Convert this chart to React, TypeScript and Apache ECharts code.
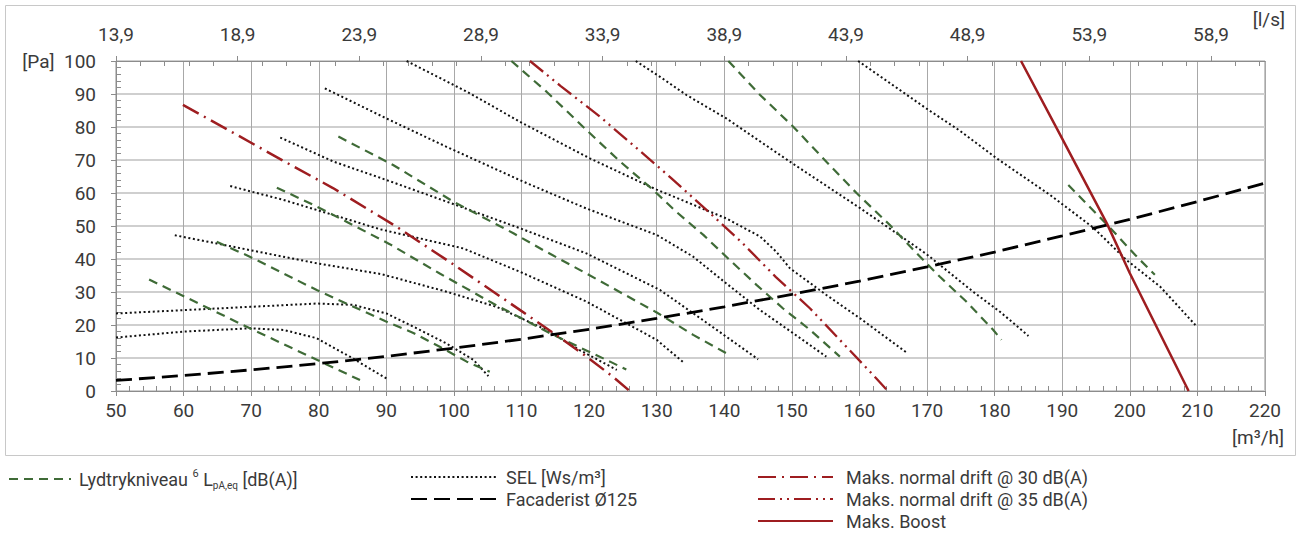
import React, { useEffect, useRef } from "react";
import * as echarts from "echarts";

// ---------- data (x = m³/h, y = Pa) ----------
const xTicksTopLabels = ["13,9", "18,9", "23,9", "28,9", "33,9", "38,9", "43,9", "48,9", "53,9", "58,9"];

const sel600 = [[50, 16.2], [60, 18], [69.8, 19], [74.8, 18.5], [79.7, 16], [84.6, 10.4], [90, 3.8]];
const sel700 = [[50, 23.5], [60, 24.5], [69.8, 25.5], [79.7, 26.5], [85.1, 26.1], [90, 23.5], [94, 19.5], [98.9, 14.4], [102.9, 9.4], [105.1, 4.5]];
const sel800 = [[58.7, 47.2], [64.9, 44.7], [69.8, 42.7], [79.7, 38.7], [89.3, 35.4], [98.9, 30.1], [106.3, 25.5], [113.7, 18.5], [118.6, 12.4], [124.1, 6.4]];
const sel900 = [[66.9, 62.1], [74.8, 57.9], [82.2, 53.3], [89.1, 49], [101.4, 43.2], [109.8, 36.1], [119.6, 27.1], [130, 15.5], [134, 8.6]];
const sel1000 = [[74.3, 76.8], [82.2, 69.5], [89.1, 64.6], [98.9, 57.4], [109.8, 49.3], [119.6, 41.7], [130.5, 30.6], [138, 19.8], [145, 9.6]];
const sel1100 = [[80.9, 91.7], [90, 82.6], [98.9, 74], [110.3, 63.4], [119.6, 55.3], [130, 47.3], [135.4, 40.7], [140.3, 32.6], [145.3, 24.5], [150.2, 17.5], [155.1, 10.4]];
const sel1200 = [[93, 100], [101.9, 90.7], [110.2, 81.1], [120.1, 70.5], [130, 61], [140.3, 52.3], [145.3, 46.8], [147.7, 42.2], [149.7, 37.2], [155.1, 29.1], [160.1, 22], [167, 11.6]];
const sel1400 = [[126.9, 100], [130.5, 95.2], [134.4, 89.7], [140.3, 82.6], [149.7, 69.5], [160.1, 55.4], [165, 48.5], [169.9, 41.5], [171.9, 38.2], [176.8, 30.1], [180.8, 24], [185, 16.7]];
const sel1600 = [[159.8, 100], [169.9, 85.6], [174.9, 78.8], [180.3, 70.5], [188.2, 59.4], [194.6, 49.5], [199.5, 39.7], [204.5, 31.6], [209.7, 20]];

const db26 = [[54.9, 33.8], [69.8, 19], [86.1, 3.3]];
const db28 = [[64.9, 45.2], [69.8, 40.7], [79.7, 30.6], [89.8, 21.2], [94, 17.6], [97.9, 13.4], [101.9, 8.9], [105.3, 5.8]];
const db30 = [[73.8, 61.6], [79.2, 56.4], [84.1, 51.3], [90.5, 44.5], [97.9, 35.6], [105.8, 26.5], [114.7, 17], [123.1, 8.9], [125.5, 6.5]];
const db32 = [[82.9, 77.1], [91, 68.5], [99.9, 57.4], [108.8, 47.8], [113.2, 42.7], [119.6, 35.6], [130, 23.8], [135.4, 17], [140.8, 10.9]];
const db35 = [[108.5, 100], [113.7, 90.7], [119.6, 79.1], [124.6, 69.5], [129.5, 60.9], [132.9, 54.3], [136.9, 47.3], [140.8, 39.7], [144.8, 32.1], [148.7, 25], [152.7, 18.5], [157.1, 10.4]];
const db38 = [[140.6, 100], [145.3, 89.7], [150.2, 80.1], [155.1, 69.5], [159.6, 59.9], [164.5, 50.3], [168, 42.7], [171.9, 34.6], [175.8, 27.1], [179.8, 18.5], [181, 15.5]];
const db42 = [[190.9, 62.4], [196.6, 50.5], [200.8, 41.2], [203.7, 35.2]];

const drift30 = [[59.9, 86.7], [67.3, 78.3], [74.8, 69.7], [82.1, 61.5], [91.5, 49.8], [100.4, 37.7], [109.8, 24.5], [114.7, 17.6], [119.5, 10.6], [123.6, 4.2], [126, 0]];
const drift35 = [[111.25, 100], [115.8, 92.4], [121.5, 83.3], [126.8, 74], [132.1, 64.6], [137.4, 54.8], [142.6, 45], [147.6, 34.6], [152.7, 25], [157.6, 14.4], [162.5, 3.8], [164.2, 0]];
const boost = [[183.9, 100], [189.7, 77.6], [196.6, 50.8], [200, 35.7], [208.7, 0]];

const facade = [[50, 3.2], [60, 4.7], [70, 6.4], [80, 8.3], [90, 10.5], [100, 13], [110, 15.7], [120, 18.7], [130, 22], [140, 25.5], [150, 29.3], [160, 33.3], [170, 37.6], [180, 42.1], [190, 47], [200, 52], [210, 57.4], [220, 63]];

const selLabelText = ["600", "700", "800", "900", "1000", "1100", "1200", "1400", "1600"];
const selLabelX = [80.5, 87.1, 92.5, 104.6, 104.9, 104.9, 105.3, 137.9, 169.7];
const selLabelY = [19.4, 28.8, 37.3, 44.2, 57.6, 74.2, 92.1, 92.7, 92.7];

const dbLabelText = ["26", "28", "30", "32", "35", "38", "42"];
const dbLabelX = [88, 108.3, 128.2, 142.2, 157, 181.5, 205.9];
const dbLabelY = [2.9, 3.8, 5.4, 6.0, 6.4, 10.9, 33.1];

// ---------- styles ----------
const GREEN = "#3f6b37";
const GREEN_TXT = "#4e7b44";
const RED = "#9e1d20";
const AX = "#8c8c8c";
const TXT = "#3a3a3a";
const FONT = "Roboto";

const SEL_NAME = "SEL [Ws/m³]";
const DB_NAME = "Lydtrykniveau";
const FAC_NAME = "Facaderist Ø125";
const D30_NAME = "Maks. normal drift @ 30 dB(A)";
const D35_NAME = "Maks. normal drift @ 35 dB(A)";
const BOOST_NAME = "Maks. Boost";

function lineSeries(name: string, data: number[][], lineStyle: any, z = 3) {
  return {
    type: "line",
    name,
    data,
    symbol: "none",
    showSymbol: false,
    smooth: false,
    silent: true,
    z,
    itemStyle: { color: lineStyle.color },
    lineStyle,
  };
}

export default function App() {
  const ref = useRef<HTMLDivElement>(null);
  useEffect(() => {
    if (!ref.current) return;
    const chart = echarts.init(ref.current, undefined, { renderer: "svg" });
    const selStyle = { color: "#111", width: 2, type: [2, 2.6], cap: "butt" };
    const dbStyle = { color: GREEN, width: 2.2, type: [9, 6] };
    const topMax = (220 - 50) / 3.6;

    const series: any[] = [];
    [sel600, sel700, sel800, sel900, sel1000, sel1100, sel1200, sel1400, sel1600].forEach((d) =>
      series.push(lineSeries(SEL_NAME, d, selStyle, 3))
    );
    [db26, db28, db30, db32, db35, db38, db42].forEach((d) => series.push(lineSeries(DB_NAME, d, dbStyle, 4)));
    series.push(lineSeries(FAC_NAME, facade, { color: "#000", width: 2.8, type: [16, 7] }, 5));
    series.push(lineSeries(D30_NAME, drift30, { color: RED, width: 2.5, type: [18, 6, 2, 6] }, 6));
    series.push(lineSeries(D35_NAME, drift35, { color: RED, width: 2.3, type: [17, 5, 2, 5, 2, 5] }, 6));
    series.push(lineSeries(BOOST_NAME, boost, { color: RED, width: 2.5, type: "solid" }, 7));
    series.push({
      type: "scatter",
      name: "selLabels",
      silent: true,
      symbolSize: 1,
      itemStyle: { opacity: 0 },
      z: 8,
      data: selLabelText.map((t, i) => [selLabelX[i], selLabelY[i], t]),
      label: { show: true, position: "inside", formatter: (p: any) => p.value[2], color: TXT, fontSize: 19, fontFamily: FONT },
    });
    series.push({
      type: "scatter",
      name: "dbLabels",
      silent: true,
      symbolSize: 1,
      itemStyle: { opacity: 0 },
      z: 8,
      data: dbLabelText.map((t, i) => [dbLabelX[i], dbLabelY[i], t]),
      label: { show: true, position: "inside", formatter: (p: any) => p.value[2], color: GREEN_TXT, fontSize: 19, fontFamily: FONT },
    });

    const legendBase = {
      orient: "vertical",
      top: 468,
      height: 80,
      padding: 0,
      itemHeight: 14,
      itemGap: 4,
      selectedMode: false,
      itemStyle: { opacity: 0 },
    };

    chart.setOption({
      animation: false,
      textStyle: { fontFamily: FONT },
      grid: { left: 116, right: 35, top: 61, bottom: 143, show: true, borderColor: AX, borderWidth: 1, backgroundColor: "transparent" },
      xAxis: [
        {
          type: "value", position: "bottom", min: 50, max: 220, interval: 10,
          axisLine: { show: true, onZero: false, lineStyle: { color: AX } },
          axisTick: { show: true, length: 5, lineStyle: { color: AX } },
          axisLabel: { margin: 10, fontSize: 19, color: TXT, fontFamily: FONT },
          splitLine: { show: true, lineStyle: { color: "#a8a8a8", width: 1 } },
        },
        {
          type: "value", position: "bottom", min: 50, max: 220, interval: 10,
          axisLine: { show: false, onZero: false },
          axisTick: { show: false, inside: true },
          minorTick: { show: true, splitNumber: 5, length: 5, lineStyle: { color: AX } },
          axisLabel: { show: false },
          splitLine: { show: false },
        },
        {
          type: "value", position: "top", min: 0, max: topMax, interval: 5,
          axisLine: { show: true, onZero: false, lineStyle: { color: AX } },
          axisTick: { show: true, length: 5, lineStyle: { color: AX } },
          axisLabel: {
            margin: 17, fontSize: 19, color: TXT, fontFamily: FONT, showMaxLabel: false,
            formatter: (v: number) => xTicksTopLabels[Math.round(v / 5)] ?? "",
          },
          splitLine: { show: false },
        },
        {
          type: "value", position: "top", min: 0, max: topMax, interval: 5,
          axisLine: { show: false, onZero: false },
          axisTick: { show: false, inside: true },
          minorTick: { show: true, splitNumber: 5, length: 5, lineStyle: { color: AX } },
          axisLabel: { show: false },
          splitLine: { show: false },
        },
      ],
      yAxis: [
        {
          type: "value", position: "left", min: 0, max: 100, interval: 10,
          axisLine: { show: true, onZero: false, lineStyle: { color: AX } },
          axisTick: { show: true, length: 5, lineStyle: { color: AX } },
          axisLabel: { margin: 20, fontSize: 19, color: TXT, fontFamily: FONT, formatter: (v: number) => (v === 100 ? "[Pa]  100" : String(v)) },
          splitLine: { show: true, lineStyle: { color: "#cfcfcf", width: 2 } },
        },
        {
          type: "value", position: "left", min: 0, max: 100, interval: 10,
          axisLine: { show: false, onZero: false },
          axisTick: { show: false, inside: true },
          minorTick: { show: true, splitNumber: 5, length: 5, lineStyle: { color: AX } },
          axisLabel: { show: false },
          splitLine: { show: false },
        },
      ],
      legend: [
        {
          ...legendBase,
          left: 8,
          itemWidth: 62,
          data: [DB_NAME],
          formatter: (n: string) => (n === DB_NAME ? "Lydtrykniveau {p|6} L{s|pA,eq} [dB(A)]" : n),
          textStyle: {
            fontSize: 18, color: TXT, fontFamily: FONT, lineHeight: 22, padding: [0, 0, 0, 3],
            rich: {
              p: { fontSize: 11, lineHeight: 11, verticalAlign: "top", color: TXT, fontFamily: FONT },
              s: { fontSize: 10, lineHeight: 10, verticalAlign: "bottom", color: TXT, fontFamily: FONT },
            },
          },
        },
        {
          ...legendBase,
          left: 410,
          itemWidth: 87,
          data: [SEL_NAME, FAC_NAME],
          textStyle: { fontSize: 18, color: TXT, fontFamily: FONT, padding: [0, 0, 0, 3] },
        },
        {
          ...legendBase,
          left: 757,
          itemWidth: 75,
          data: [D30_NAME, D35_NAME, BOOST_NAME],
          textStyle: { fontSize: 18, color: TXT, fontFamily: FONT, padding: [0, 0, 0, 8] },
        },
      ],
      graphic: [
        { type: "rect", silent: true, z: -10, shape: { x: 5.5, y: 5.5, width: 1290, height: 450 }, style: { fill: "none", stroke: "#c8c8c8", lineWidth: 1 } },
        { type: "text", silent: true, x: 1285, y: 19, style: { text: "[l/s]", fontSize: 19, fill: TXT, fontFamily: FONT, align: "right", verticalAlign: "middle" } },
        { type: "text", silent: true, x: 1284, y: 437, style: { text: "[m³/h]", fontSize: 19, fill: TXT, fontFamily: FONT, align: "right", verticalAlign: "middle" } },
      ],
      series,
    });
    return () => chart.dispose();
  }, []);
  return <div ref={ref} style={{ position: "fixed", left: 0, top: 0, width: 1300, height: 534, background: "#fff" }} />;
}
